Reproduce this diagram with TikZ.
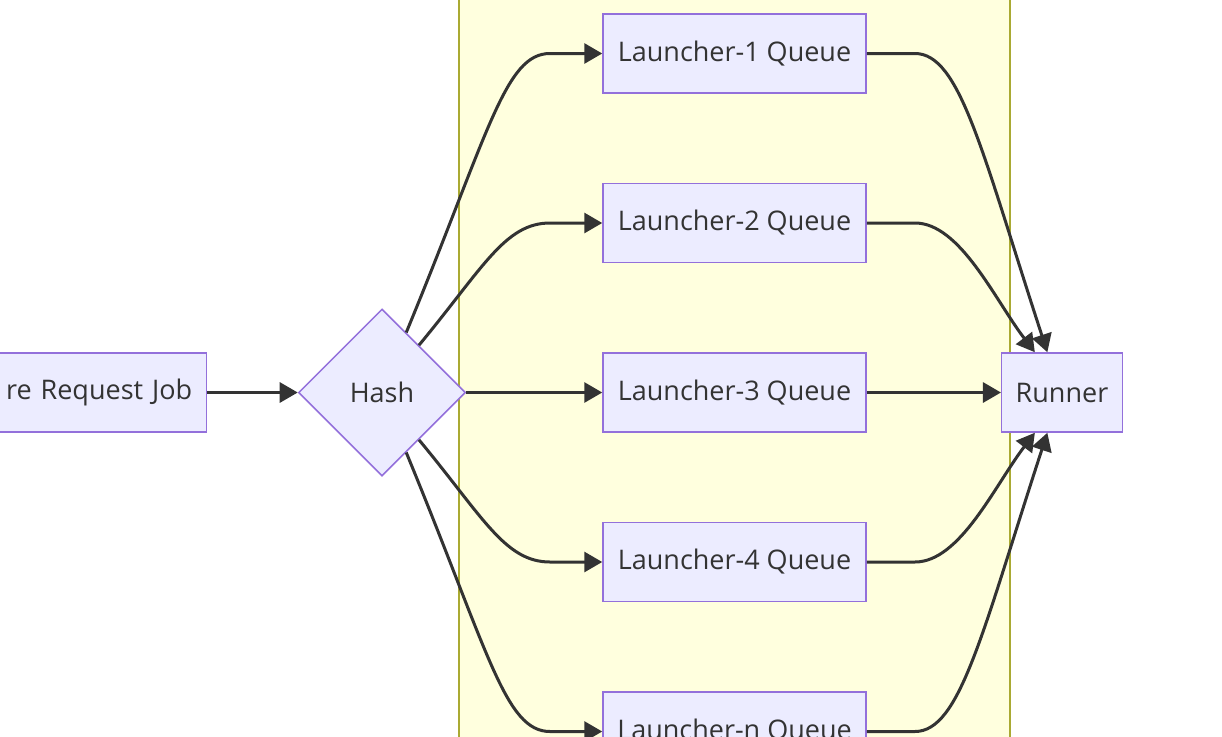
\documentclass[tikz,border=0pt]{standalone}
\usepackage{fontspec}
\setmainfont{Open Sans}
\usetikzlibrary{arrows.meta}
\usetikzlibrary{shapes.geometric}
\definecolor{boxfill}{HTML}{ECECFF}
\definecolor{boxline}{HTML}{9370DB}
\definecolor{edgegray}{HTML}{333333}
\definecolor{groupfill}{HTML}{FFFFDE}
\definecolor{groupline}{HTML}{AAAA33}
\tikzstyle{box}=[draw=boxline,fill=boxfill,line width=1.5pt,minimum height=79pt,inner xsep=14pt,text=edgegray,font=\fontsize{27}{32}\selectfont]
\tikzstyle{hashbox}=[box,diamond,aspect=1,inner sep=0pt,minimum size=167pt]
\tikzstyle{flow}=[-{Triangle[length=18pt,width=20pt]},line width=3pt,draw=edgegray]

\begin{document}
\begin{tikzpicture}[x=1pt,y=-1pt]
  \useasboundingbox (0,0) rectangle (1222,736);
  \clip (0,0) rectangle (1222,736);
  % launcher group
  \draw[fill=groupfill,draw=groupline,line width=1.5pt] (459,-10) rectangle (1010,750);
  \node[box,anchor=east,text width=220pt,align=right] (job) at (207,392.5) {re Request Job};
  \node[hashbox] (hash) at (382,392.5) {Hash};
  \foreach \i/\y in {1/53.5,2/223,3/392.5,4/562,n/731.5} {
    \node[box,minimum width=263pt] (l\i) at (734.5,\y) {Launcher-\i\ Queue};
  }
  \node[box,minimum width=118pt] (runner) at (1062,392.5) {Runner};
  \draw[flow] (job) -- (hash);
  % hash to the queues
  \draw[flow] (hash.68) .. controls (489,132) and (505,53.5) .. (550,53.5) -- (l1.west);
  \draw[flow] (hash.52) .. controls (483,268) and (505,223) .. (550,223) -- (l2.west);
  \draw[flow] (hash.east) -- (l3.west);
  \draw[flow] (hash.-52) .. controls (483,517) and (505,562) .. (550,562) -- (l4.west);
  \draw[flow] (hash.-68) .. controls (489,653) and (505,731.5) .. (550,731.5) -- (ln.west);
  % queues to the runner
  \draw[flow] (l1.east) -- (915,53.5) .. controls (960,53.5) and (982,152) .. (runner.110);
  \draw[flow] (l2.east) -- (915,223) .. controls (960,223) and (995,300) .. (runner.124);
  \draw[flow] (l3.east) -- (runner.west);
  \draw[flow] (l4.east) -- (915,562) .. controls (960,562) and (995,485) .. (runner.-124);
  \draw[flow] (ln.east) -- (915,731.5) .. controls (960,731.5) and (982,633) .. (runner.-110);
\end{tikzpicture}
\end{document}
